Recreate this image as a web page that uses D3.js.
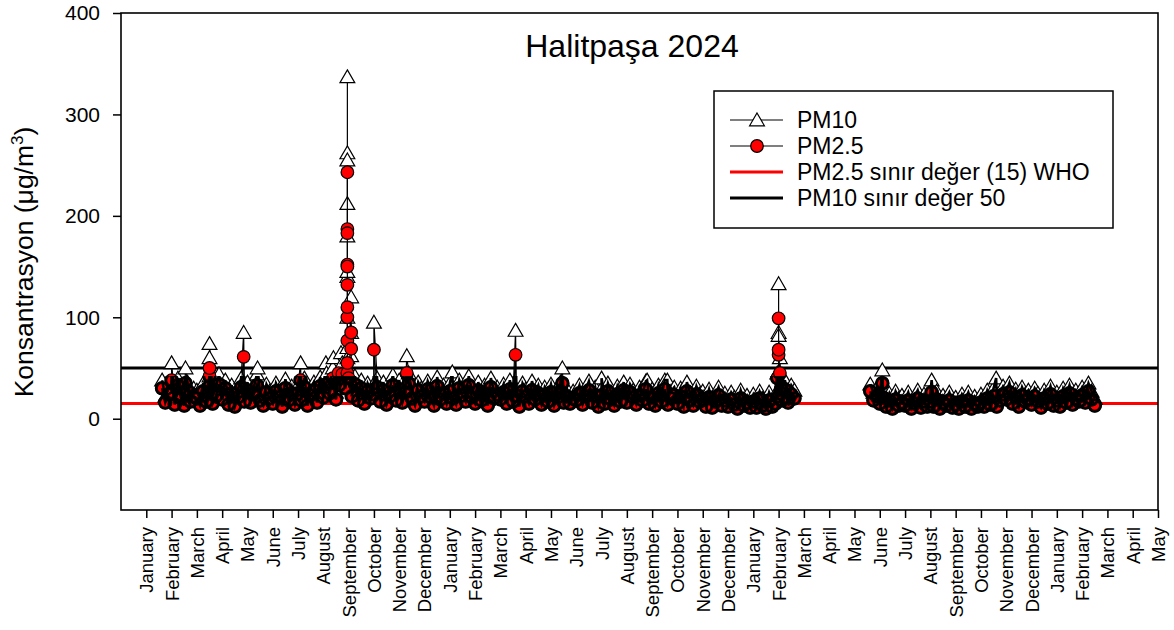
<!DOCTYPE html>
<html>
<head>
<meta charset="utf-8">
<script src="https://cdn.jsdelivr.net/npm/d3@7"></script>
<style>
  body { margin: 0; background: #fff; }
  text { font-family: "Liberation Sans", Arial, sans-serif; fill: #000; }
</style>
</head>
<body>
<svg id="main" width="1174" height="630"></svg>
<script>
// month names used for the 41 ticks (Jan 2022 .. May 2025)
const monthNames = ["January", "February", "March", "April", "May", "June", "July",
  "August", "September", "October", "November", "December"];
const tickCount = 41;
const yTicks = [0, 100, 200, 300, 400];

// 8 readings per month, position = month index + slot/8 (0 = January of first year)
const step = 1 / 8;
const seg1Start = 0.625;   // late January, year 1
const seg2Start = 28.625;  // late May, year 3

const pm10A = [
  38, 22, 30,                          // Jan
  34, 20, 40, 26, 18, 36, 24, 30,      // Feb
  28, 19, 35, 24, 42, 22, 30, 44,      // Mar
  26, 38, 21, 33, 18, 29, 40, 24,      // Apr
  36, 22, 31, 44, 25, 19, 34, 27,      // May
  21, 35, 28, 18, 39, 24, 32, 20,      // Jun
  33, 25, 40, 19, 30, 36, 22, 41,      // Jul
  28, 45, 32, 50, 26, 42, 55, 38,      // Aug
  48, 30, 42, 25, 38, 22, 35, 28,      // Sep
  32, 40, 24, 36, 21, 30, 43, 26,      // Oct
  38, 23, 34, 45, 27, 20, 36, 30,      // Nov
  24, 37, 29, 19, 41, 26, 33, 22,      // Dec
  35, 27, 20, 38, 30, 24, 42, 28,      // Jan
  22, 36, 25, 33, 19, 40, 27, 31,      // Feb
  26, 34, 21, 38, 24, 30, 18, 35,      // Mar
  29, 22, 37, 26, 33, 20, 31, 24,      // Apr
  34, 19, 28, 36, 23, 30, 21, 27,      // May
  25, 33, 20, 29, 37, 22, 31, 18,      // Jun
  30, 21, 35, 26, 19, 32, 24, 36,      // Jul
  23, 34, 28, 20, 31, 25, 37, 22,      // Aug
  29, 19, 33, 24, 38, 21, 27, 31,      // Sep
  22, 30, 18, 36, 25, 20, 32, 24,      // Oct
  27, 19, 29, 17, 24, 31, 20, 25,      // Nov
  18, 26, 21, 16, 28, 19, 23, 17,      // Dec
  24, 17, 27, 20, 15, 26, 19, 22,      // Jan
  30, 26, 38, 24, 33, 28               // Feb
];
const pm25A = [
  30, 16, 24,
  26, 14, 33, 20, 13, 28, 17, 22,
  20, 13, 27, 17, 32, 15, 22, 34,
  19, 30, 14, 25, 12, 21, 31, 17,
  28, 16, 24, 33, 18, 13, 26, 20,
  15, 27, 21, 12, 30, 18, 25, 14,
  25, 18, 31, 13, 23, 28, 16, 32,
  21, 34, 25, 40, 19, 33, 44, 30,
  40, 22, 34, 18, 30, 15, 27, 20,
  24, 31, 17, 28, 14, 22, 33, 18,
  29, 16, 26, 35, 20, 13, 28, 22,
  17, 29, 21, 13, 32, 19, 25, 15,
  27, 20, 14, 30, 23, 17, 33, 21,
  15, 28, 18, 25, 13, 31, 20, 24,
  19, 26, 15, 29, 17, 23, 12, 27,
  22, 15, 28, 19, 25, 14, 23, 17,
  26, 13, 21, 27, 16, 22, 15, 20,
  18, 25, 14, 22, 28, 16, 23, 12,
  23, 15, 27, 19, 13, 24, 17, 28,
  16, 26, 21, 14, 23, 18, 29, 15,
  21, 13, 25, 17, 29, 14, 20, 23,
  15, 22, 12, 27, 18, 13, 24, 17,
  19, 12, 21, 11, 17, 23, 13, 18,
  12, 19, 14, 10, 20, 13, 16, 11,
  17, 11, 20, 13, 10, 18, 12, 15,
  22, 18, 29, 16, 24, 20
];
const pm10B = [
  34, 26, 30,                          // May
  22, 29, 18, 25, 16, 27, 20, 23,      // Jun
  19, 26, 15, 22, 28, 17, 24, 18,      // Jul
  25, 18, 27, 16, 23, 20, 26, 17,      // Aug
  21, 15, 24, 19, 26, 16, 22, 18,      // Sep
  24, 18, 28, 21, 30, 19, 26, 32,      // Oct
  27, 35, 22, 29, 19, 31, 24, 28,      // Nov
  21, 30, 25, 18, 28, 23, 32, 20,      // Dec
  26, 19, 30, 24, 33, 21, 28, 25,      // Jan
  31, 24, 35, 27, 20                   // Feb
];
const pm25B = [
  27, 18, 22,
  15, 21, 12, 18, 10, 19, 13, 16,
  13, 18, 10, 15, 20, 11, 17, 12,
  17, 12, 19, 10, 16, 13, 18, 11,
  14, 10, 17, 12, 18, 10, 15, 12,
  16, 12, 20, 14, 22, 12, 18, 24,
  19, 26, 15, 21, 12, 23, 17, 20,
  14, 22, 17, 11, 20, 15, 24, 13,
  18, 12, 22, 16, 25, 14, 20, 17,
  23, 16, 27, 19, 13
];

// episodes: [month position, value]
const pm10Peaks = [
  [1.0, 55], [1.55, 50], [2.5, 60], [2.5, 74], [3.85, 85], [4.4, 50], [6.1, 55],
  [7.1, 55], [7.4, 60], [7.7, 65],
  [7.95, 60], [7.95, 140], [7.95, 212], [7.95, 262], [7.95, 337], [7.95, 255],
  [7.95, 180], [7.95, 145], [7.95, 100], [7.95, 70],
  [8.1, 120], [8.1, 85], [8.1, 62],
  [9.0, 95], [10.3, 62], [12.1, 46], [14.6, 87], [16.45, 50],
  [18.0, 40], [19.8, 38], [20.6, 38],
  [24.95, 45], [25.0, 85], [25.0, 133], [25.0, 82], [25.05, 60], [25.1, 33],
  [29.1, 48], [31.05, 38], [33.6, 40]
];
const pm25Peaks = [
  [1.0, 38], [1.55, 35], [2.5, 42], [2.5, 50], [3.85, 61], [6.1, 38], [7.6, 45],
  [7.95, 45], [7.95, 100], [7.95, 152], [7.95, 187], [7.95, 243], [7.95, 183],
  [7.95, 150], [7.95, 132], [7.95, 110], [7.95, 77], [7.95, 55],
  [8.1, 85], [8.1, 69],
  [9.0, 68], [10.3, 45], [14.6, 63], [16.45, 35],
  [24.95, 40], [25.0, 63], [25.0, 99], [25.0, 68], [25.05, 45], [25.1, 30],
  [25.4, 20], [29.1, 35], [31.05, 26]
];

const who25 = 15;
const limit10 = 50;

const svg = d3.select("#main");
const plotL = 121, plotR = 1158, plotT = 13, plotB = 510;

const x = d3.scaleLinear().domain([-1, 40]).range([plotL, plotR]);
const y = d3.scaleLinear().domain([-90, 400]).range([plotB, plotT]);

function segment(start, values, peaks) {
  const end = start + (values.length - 1) * step;
  const pts = values.map((v, i) => ({ t: start + i * step, v }));
  peaks.filter(p => p[0] >= start - 0.1 && p[0] <= end + 0.1)
    .forEach(p => pts.push({ t: p[0], v: p[1] }));
  return pts.sort((a, b) => a.t - b.t);
}

const pm10Segs = [segment(seg1Start, pm10A, pm10Peaks), segment(seg2Start, pm10B, pm10Peaks)];
const pm25Segs = [segment(seg1Start, pm25A, pm25Peaks), segment(seg2Start, pm25B, pm25Peaks)];

// limit lines
svg.append("line")
  .attr("x1", x(-1)).attr("x2", x(40))
  .attr("y1", y(who25)).attr("y2", y(who25))
  .attr("stroke", "#ff0000").attr("stroke-width", 3);
svg.append("line")
  .attr("x1", x(-1)).attr("x2", x(40))
  .attr("y1", y(limit10)).attr("y2", y(limit10))
  .attr("stroke", "#000").attr("stroke-width", 3);

const line = d3.line().x(d => x(d.t)).y(d => y(d.v));
const tri = d3.symbol().type(d3.symbolTriangle).size(95);

function drawSeries(segs, cls, drawMarker) {
  const g = svg.append("g").attr("class", cls);
  segs.forEach(seg => {
    g.append("path").attr("d", line(seg))
      .attr("fill", "none").attr("stroke", "#000").attr("stroke-width", 1.2);
  });
  segs.forEach(seg => {
    seg.forEach(d => drawMarker(g, x(d.t), y(d.v)));
  });
}

function triangleMarker(g, cx, cy) {
  g.append("path").attr("d", tri())
    .attr("transform", `translate(${cx},${cy + 1.5})`)
    .attr("fill", "#fff").attr("stroke", "#000").attr("stroke-width", 1.2);
}
function circleMarker(g, cx, cy) {
  g.append("circle").attr("cx", cx).attr("cy", cy).attr("r", 6.3)
    .attr("fill", "#ff0000").attr("stroke", "#000").attr("stroke-width", 1.2);
}

drawSeries(pm10Segs, "pm10", triangleMarker);
drawSeries(pm25Segs, "pm25", circleMarker);

// the hourly record is so dense that its outlines read as a dark band: repeat the connecting
// lines and the marker outlines inside the band only (below ~42 µg/m3)
svg.append("clipPath").attr("id", "band")
  .append("rect")
  .attr("x", plotL).attr("y", y(42))
  .attr("width", plotR - plotL).attr("height", plotB - y(42));
const over = svg.append("g").attr("clip-path", "url(#band)");
[...pm10Segs, ...pm25Segs].forEach(seg => {
  over.append("path").attr("d", line(seg))
    .attr("fill", "none").attr("stroke", "#000").attr("stroke-width", 2.6);
});
pm25Segs.forEach(seg => {
  seg.forEach(d => {
    over.append("circle").attr("cx", x(d.t)).attr("cy", y(d.v)).attr("r", 5.8)
      .attr("fill", "none").attr("stroke", "#000").attr("stroke-width", 3);
  });
});

// frame
svg.append("rect")
  .attr("x", plotL).attr("y", plotT)
  .attr("width", plotR - plotL).attr("height", plotB - plotT)
  .attr("fill", "none").attr("stroke", "#000").attr("stroke-width", 1.6);

// y axis
const yAxis = svg.append("g")
  .attr("transform", `translate(${plotL},0)`)
  .call(d3.axisLeft(y).tickValues(yTicks).tickSize(8).tickSizeOuter(0).tickPadding(13));
yAxis.select(".domain").remove();
yAxis.selectAll("line").attr("stroke-width", 1.5);
yAxis.selectAll("text")
  .style("font-family", '"Liberation Sans", Arial, sans-serif')
  .style("font-size", "21px");

// x axis with month names
const tickLabels = d3.range(tickCount).map(i => monthNames[i % 12]);
const xAxis = svg.append("g")
  .attr("transform", `translate(0,${plotB})`)
  .call(d3.axisBottom(x).tickValues(d3.range(tickCount)).tickSize(8).tickSizeOuter(0)
    .tickFormat(i => tickLabels[i]));
xAxis.select(".domain").remove();
xAxis.selectAll("line").attr("stroke-width", 1.5);
xAxis.selectAll("text")
  .style("font-family", '"Liberation Sans", Arial, sans-serif')
  .style("font-size", "18.5px")
  .attr("transform", "rotate(-90)")
  .attr("text-anchor", "end")
  .attr("x", -17).attr("y", 0).attr("dy", "0.35em");

// y label
const yLab = svg.append("text")
  .attr("transform", "translate(33,262) rotate(-90)")
  .attr("text-anchor", "middle")
  .style("font-size", "26.5px");
yLab.append("tspan").text("Konsantrasyon (μg/m");
yLab.append("tspan").text("3").style("font-size", "17px").attr("dy", -10);
yLab.append("tspan").text(")").attr("dy", 10);

// title
svg.append("text")
  .attr("x", 632).attr("y", 57)
  .attr("text-anchor", "middle")
  .style("font-size", "32px")
  .text("Halitpaşa 2024");

// legend
const legend = svg.append("g");
legend.append("rect")
  .attr("x", 714).attr("y", 91).attr("width", 399).attr("height", 137)
  .attr("fill", "#fff").attr("stroke", "#000").attr("stroke-width", 1.5);
const legendItems = ["PM10", "PM2.5", "PM2.5 sınır değer (15) WHO", "PM10 sınır değer 50"];
const rowY = [120, 146, 172, 198];
legendItems.forEach((name, i) => {
  const ly = rowY[i];
  const thick = i >= 2;
  legend.append("line")
    .attr("x1", 730).attr("x2", 783).attr("y1", ly).attr("y2", ly)
    .attr("stroke", i === 2 ? "#ff0000" : "#000")
    .attr("stroke-width", thick ? 3 : 1.2);
  if (i === 0) triangleMarker(legend, 757, ly);
  if (i === 1) circleMarker(legend, 757, ly);
  legend.append("text")
    .attr("x", 797).attr("y", ly).attr("dy", "0.36em")
    .style("font-size", "23px")
    .text(name);
});
</script>
</body>
</html>
